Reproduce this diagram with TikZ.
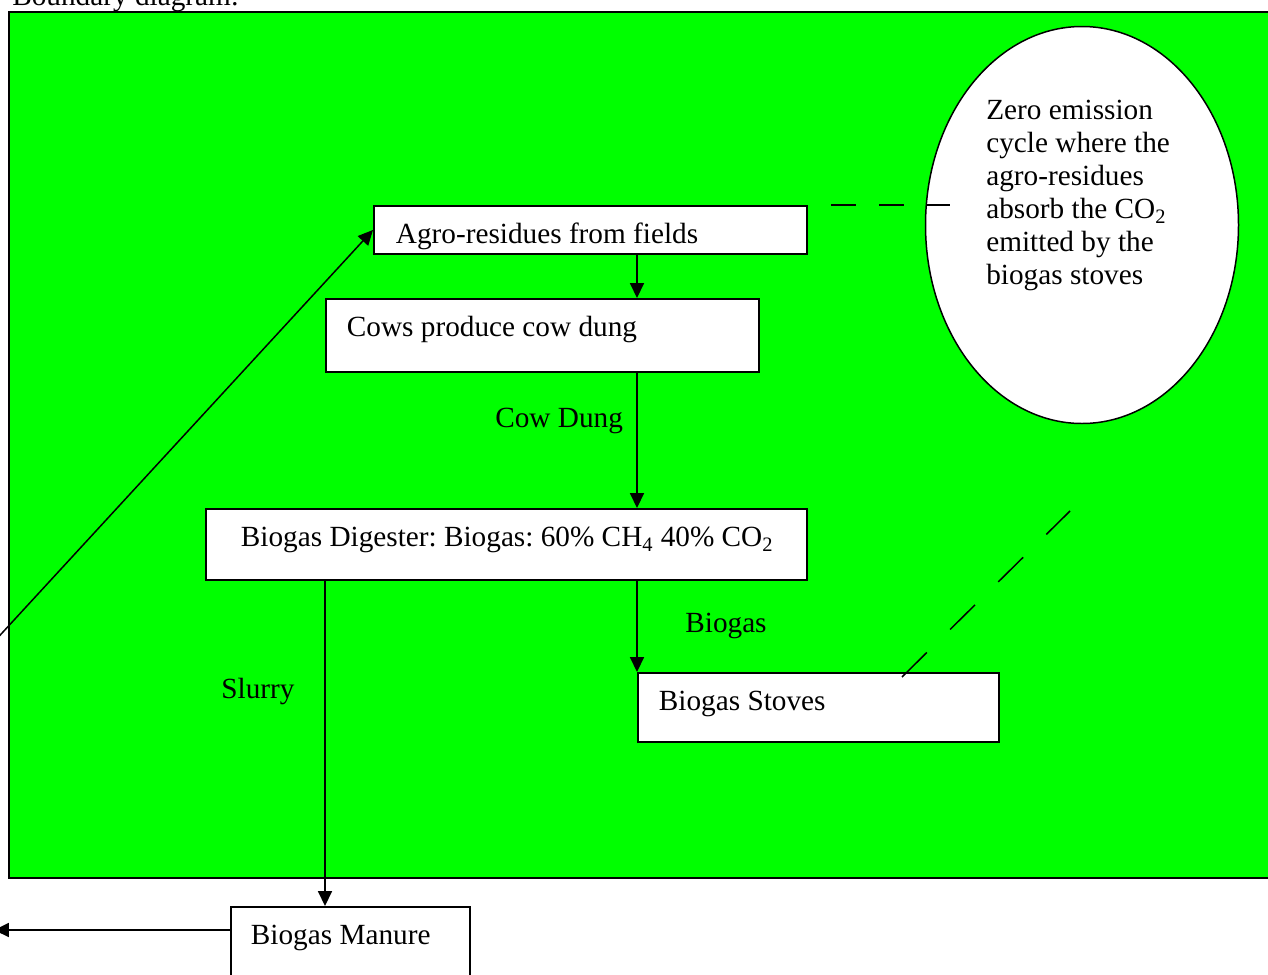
\documentclass[tikz,border=0pt]{standalone}
\usepackage{fontspec}
\setmainfont{Liberation Serif}
\usetikzlibrary{arrows.meta,shapes.geometric}

\newdimen\pxu
\pxu=0.02cm

\definecolor{fieldgreen}{RGB}{0,255,0}

\tikzset{
  box/.style={draw, fill=white, line width=1.1pt, anchor=north west,
    inner ysep=0pt, text height=38\pxu, align=flush left},
  flow/.style={line width=0.85pt, -{Triangle[length=8.5pt,width=8pt]}},
  dashline/.style={line width=0.85pt},
  plain/.style={anchor=base west, inner sep=0pt}
}

\frenchspacing

\begin{document}
\begin{tikzpicture}[x=0.02cm, y=-0.02cm, font=\fontsize{16.65}{18.8}\selectfont]
  \useasboundingbox (0,0) rectangle (1268,974);
  \clip (0,0) rectangle (1268,974);

  % project boundary
  \draw[line width=1.1pt, fill=fieldgreen] (9,12) rectangle (1300,878);
  \node[plain] (title) at (12,5) {Boundary diagram:};

  % process boxes
  \node[box, inner xsep=22\pxu, text width=389\pxu, text depth=10\pxu]
    (agro) at (373,205) {Agro-residues from fields};
  \node[box, inner xsep=21\pxu, text width=391\pxu, text depth=35\pxu]
    (cows) at (325,298) {Cows produce cow dung};
  \node[box, inner xsep=35\pxu, text width=531\pxu, text depth=33\pxu]
    (digester) at (205,508)
    {\mbox{Biogas Digester: Biogas: 60\% CH\textsubscript{4} 40\% CO\textsubscript{2}}};
  \node[box, inner xsep=21\pxu, text width=319\pxu, text depth=31\pxu]
    (stoves) at (637,672) {Biogas Stoves};
  \node[box, inner xsep=20\pxu, text width=199\pxu, text depth=34\pxu]
    (manure) at (230,906) {Biogas Manure};

  % zero emission note
  \node[draw, ellipse, fill=white, line width=0.85pt, inner sep=0pt,
    minimum width=313\pxu, minimum height=397\pxu] (cycle) at (1082,225) {};
  \node[anchor=north west, inner sep=0pt, align=flush left] (cycleText) at (986,100)
    {Zero emission\\cycle where the\\agro-residues\\absorb the CO\textsubscript{2}\\emitted by the\\biogas stoves};

  % flows
  \draw[flow] (agro.south -| stoves.west) -- (cows.north -| stoves.west);
  \draw[flow] (cows.south -| stoves.west) -- (digester.north -| stoves.west);
  \draw[flow] (digester.south -| stoves.west) -- (stoves.north west);
  \draw[flow] (digester.south -| cows.west) -- (manure.north -| cows.west);

  \coordinate (manureOut) at (-6,930);
  \draw[flow] (manureOut -| manure.west) -- (manureOut);

  \coordinate (fieldIn) at (-20,657);
  \draw[flow] (fieldIn) -- (agro.west);

  % links to the note
  \coordinate (cycleEnd) at (950,205);
  \draw[dashline, dash pattern=on 14.2pt off 13.1pt, dash phase=14.2pt]
    (agro.north east) -- (cycleEnd);
  \coordinate (stoveTop) at (902,677);
  \coordinate (cycleFoot) at (1070,511);
  \draw[dashline, dash pattern=on 19.9pt off 18.6pt] (stoveTop) -- (cycleFoot);

  % flow labels
  \node[plain] (cowLbl) at (495,427) {Cow Dung};
  \node[plain] (gasLbl) at (685,632) {Biogas};
  \node[plain] (slurryLbl) at (221,698) {Slurry};

\end{tikzpicture}
\end{document}
